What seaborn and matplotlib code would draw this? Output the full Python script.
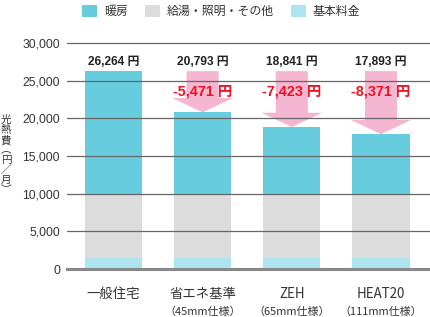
import matplotlib
matplotlib.use("Agg")
import matplotlib.pyplot as plt
import seaborn as sns
import pandas as pd
from matplotlib.patches import Patch, FancyArrow

# ---- data ----
categories = ["一般住宅", "省エネ基準", "ZEH", "HEAT20"]
sublabels = ["", "（45mm仕様）", "（65mm仕様）", "（111mm仕様）"]
totals = [26264, 20793, 18841, 17893]
other_top = [10000, 10000, 10000, 10000]   # 給湯・照明・その他 + 基本料金
base_fee = [1500, 1500, 1500, 1500]        # 基本料金
series_names = ["暖房", "給湯・照明・その他", "基本料金"]
yticks = [0, 5000, 10000, 15000, 20000, 25000, 30000]

C_HEAT = "#66CCDE"
C_OTHER = "#DCDCDC"
C_BASE = "#AEE4F0"
C_ARROW = "#F5B6D1"
C_RED = "#F01020"
CJK = ["Noto Sans CJK JP", "DejaVu Sans"]

sns.set_theme(style="white")
plt.rcParams["font.family"] = ["Liberation Sans", "Noto Sans CJK JP", "DejaVu Sans"]

df = pd.DataFrame({"cat": categories, "total": totals,
                   "other": other_top, "base": base_fee})

fig = plt.figure(figsize=(4.31, 3.17), dpi=100)
ax = fig.add_axes([67/431, 48/317, 363/431, 226/317])

bw = 0.64
sns.barplot(data=df, x="cat", y="total", color=C_HEAT, saturation=1, width=bw, ax=ax, zorder=2)
sns.barplot(data=df, x="cat", y="other", color=C_OTHER, saturation=1, width=bw, ax=ax, zorder=2)
sns.barplot(data=df, x="cat", y="base", color=C_BASE, saturation=1, width=bw, ax=ax, zorder=2)
for p in ax.patches:
    p.set_edgecolor("none")

ax.set_ylim(0, 30000)
ax.set_xlim(-0.521, 3.549)
ax.set_yticks(yticks)
ax.set_yticklabels([f"{v:,}" for v in yticks], fontsize=8.7, color="#333333")
ax.tick_params(axis="y", length=0, pad=5)
ax.tick_params(axis="x", length=0, labelbottom=False)
ax.set_xlabel("")
ax.set_ylabel("")
for s in ["top", "right", "left"]:
    ax.spines[s].set_visible(False)
ax.spines["bottom"].set_color("#888888")
ax.spines["bottom"].set_linewidth(2.2)
ax.spines["bottom"].set_zorder(6)

for v in yticks[1:]:
    ax.axhline(v, color="#666666", lw=0.9, zorder=5, clip_on=False)

# arrows and labels
ref = totals[0]
for i, t in enumerate(totals):
    ax.text(i, 27450, f"{t:,} 円", ha="center", va="center", fontsize=8.6,
            fontweight="bold", color="#222222", zorder=7)
    if i > 0:
        arr = FancyArrow(i, ref, 0, t - ref, width=0.36, head_width=0.68,
                         head_length=1900, length_includes_head=True,
                         color=C_ARROW, lw=0, zorder=3)
        ax.add_patch(arr)
        ax.text(i, 23500, f"{t - ref:,} 円", ha="center", va="center",
                fontsize=10.4, fontweight="bold", color=C_RED, zorder=7)

# category labels
trans = ax.get_xaxis_transform()
for i, (c, s) in enumerate(zip(categories, sublabels)):
    ax.text(i, -0.112, c, transform=trans, ha="center", va="center",
            fontsize=9.6, color="#333333", clip_on=False, family=CJK)
    if s:
        ax.text(i, -0.19, s, transform=trans, ha="center", va="center",
                fontsize=7.9, color="#333333", clip_on=False, family=CJK)

# vertical y label
fig.text(6/431, 1 - 155/317, "光\n熱\n費\n︵\n円\n／\n月\n︶", ha="center", va="center",
         fontsize=7.6, linespacing=1.0, color="#333333", family=CJK)

# legend
handles = [Patch(facecolor=C_HEAT, edgecolor="none"),
           Patch(facecolor=C_OTHER, edgecolor="none"),
           Patch(facecolor=C_BASE, edgecolor="none")]
fig.legend(handles, series_names, loc="upper center", bbox_to_anchor=(221/431, 1.012),
           ncol=3, frameon=False, handlelength=1.25, handleheight=1.25,
           handletextpad=0.55, columnspacing=1.45, borderpad=0.2,
           prop={"family": CJK, "size": 8.6})
for t in fig.legends[0].get_texts():
    t.set_color("#333333")

fig.savefig("out.png", dpi=100)
